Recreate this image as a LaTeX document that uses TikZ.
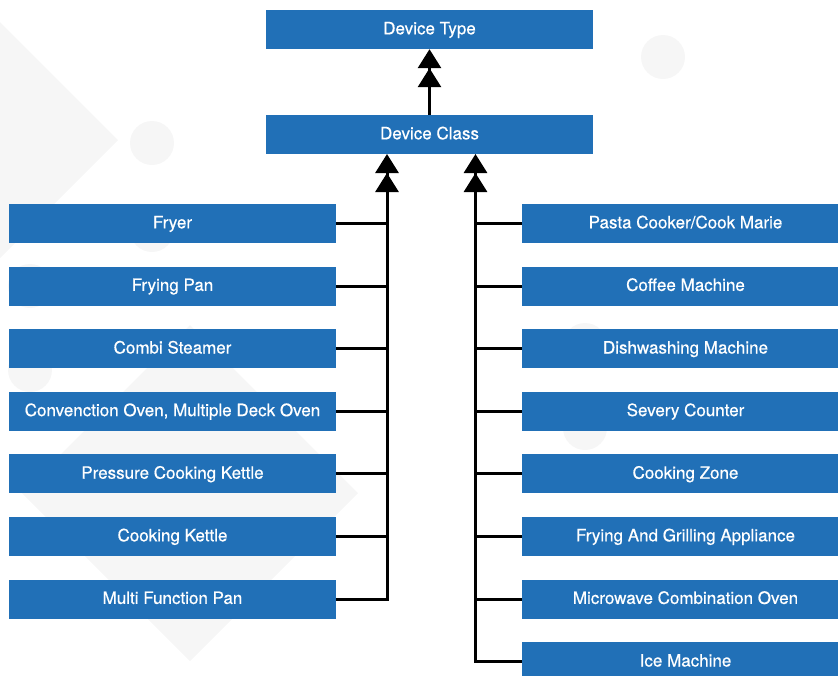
\documentclass[tikz,border=0pt]{standalone}
\usepackage{fontspec}
\setmainfont{TeX Gyre Heros}
\newfontfamily\boxfont{TeX Gyre Heros}[FakeBold=0.5]
\usetikzlibrary{arrows.meta}
\definecolor{boxblue}{HTML}{2170B7}
\definecolor{bgshape}{HTML}{F6F6F6}
\tikzset{
  cbox/.style={fill=boxblue, minimum width=327pt, minimum height=39pt, inner sep=0pt,
    text height=13pt, text depth=3.4pt,
    text=white, font=\boxfont\fontsize{17}{19}\selectfont},
  link/.style={line width=3pt, draw=black},
  uparrow/.style={link, -{Triangle[width=23pt,length=19pt,sep=0pt]Triangle[width=23pt,length=19pt,sep=0pt]}},
  bg/.style={fill=bgshape, draw=none},
}
\begin{document}
\begin{tikzpicture}[x=1pt,y=-1pt]
\useasboundingbox (0,0) rectangle (838,675);
\clip (0,0) rectangle (838,675);
% faint background decoration
\fill[bg] (0,22) -- (118,140) -- (0,258) -- (-118,140) -- cycle;
\fill[bg] (190,325) -- (358,493) -- (190,661) -- (22,493) -- cycle;
\foreach \cx/\cy in {152/143, 663/57, 152/230, 30/286, 30/370, 585/345, 585/428}
  \fill[bg] (\cx,\cy) circle[radius=22pt];
% top
\node[cbox] (dt) at (429.5,29.5) {Device Type};
\node[cbox] (dc) at (429.5,134.5) {Device Class};
% left column
\node[cbox] (l1) at (172.5,223.5) {Fryer};
\node[cbox] (l2) at (172.5,286.1) {Frying Pan};
\node[cbox] (l3) at (172.5,348.7) {Combi Steamer};
\node[cbox] (l4) at (172.5,411.3) {Convenction Oven, Multiple Deck Oven};
\node[cbox] (l5) at (172.5,473.9) {Pressure Cooking Kettle};
\node[cbox] (l6) at (172.5,536.5) {Cooking Kettle};
\node[cbox] (l7) at (172.5,599.1) {Multi Function Pan};
% right column
\node[cbox] (r1) at (685.5,223.5) {Pasta Cooker/Cook Marie};
\node[cbox] (r2) at (685.5,286.1) {Coffee Machine};
\node[cbox] (r3) at (685.5,348.7) {Dishwashing Machine};
\node[cbox] (r4) at (685.5,411.3) {Severy Counter};
\node[cbox] (r5) at (685.5,473.9) {Cooking Zone};
\node[cbox] (r6) at (685.5,536.5) {Frying And Grilling Appliance};
\node[cbox] (r7) at (685.5,599.1) {Microwave Combination Oven};
\node[cbox] (r8) at (685.5,661.7) {Ice Machine};
% connectors
\coordinate (ltop) at (387,154);
\coordinate (rtop) at (475.5,154);
\draw[uparrow] (dc.north) -- (dt.south);
\draw[uparrow] (l7.east) -| (ltop);
\draw[uparrow] (r8.west) -| (rtop);
\foreach \n in {l1,l2,l3,l4,l5,l6}
  \draw[link] (\n.east) -- (\n.east -| ltop);
\foreach \n in {r1,r2,r3,r4,r5,r6,r7}
  \draw[link] (\n.west) -- (\n.west -| rtop);
\end{tikzpicture}
\end{document}
